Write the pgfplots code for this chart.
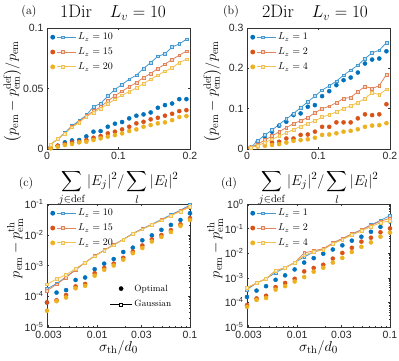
\documentclass[border=0pt]{standalone}
\usepackage{pgfplots}
\pgfplotsset{compat=1.18}
\usepackage{pgfplotstable}
\usepackage{amsmath}
\usepackage{fontspec}
\setsansfont{Liberation Sans}
\definecolor{mb}{rgb}{0,0.447,0.741}
\definecolor{mr}{rgb}{0.85,0.325,0.098}
\definecolor{my}{rgb}{0.929,0.694,0.125}
\colorlet{lb}{mb!72!white}
\colorlet{lr}{mr!72!white}
\colorlet{ly}{my!78!white}

\pgfplotstableread{
x bl rl yl bd rd yd
0.005 0.0038 0.0038 0.0038 0.0011 0.0011 0.0005
0.015 0.0082 0.0082 0.0082 0.0027 0.0027 0.0019
0.025 0.0135 0.0129 0.0129 0.0055 0.0041 0.0033
0.035 0.0192 0.0184 0.0179 0.0071 0.0055 0.0041
0.045 0.0234 0.0225 0.0220 0.0074 0.0060 0.0055
0.055 0.0280 0.0275 0.0266 0.0104 0.0074 0.0060
0.065 0.0349 0.0313 0.0302 0.0143 0.0093 0.0074
0.075 0.0376 0.0349 0.0335 0.0148 0.0107 0.0088
0.085 0.0437 0.0396 0.0371 0.0184 0.0129 0.0102
0.095 0.0492 0.0440 0.0412 0.0209 0.0143 0.0115
0.105 0.0533 0.0478 0.0445 0.0223 0.0162 0.0129
0.115 0.0577 0.0514 0.0473 0.0253 0.0184 0.0148
0.125 0.0610 0.0549 0.0505 0.0275 0.0212 0.0162
0.135 0.0665 0.0590 0.0541 0.0286 0.0225 0.0184
0.145 0.0714 0.0624 0.0577 0.0302 0.0245 0.0198
0.155 0.0766 0.0665 0.0610 0.0341 0.0258 0.0212
0.165 0.0786 0.0701 0.0643 0.0363 0.0275 0.0220
0.175 0.0843 0.0740 0.0670 0.0376 0.0291 0.0239
0.185 0.0868 0.0775 0.0714 0.0412 0.0313 0.0264
0.195 0.0907 0.0808 0.0742 0.0412 0.0321 0.0272
}\tabA

\pgfplotstableread{
x bl rl yl bd rd yd
0.005 0.0033 0.003 0.003 0.0033 0.003 0.003
0.015 0.0206 0.012 0.009 0.0181 0.008 0.006
0.025 0.0346 0.022 0.016 0.0305 0.012 0.008
0.035 0.0470 0.032 0.024 0.0429 0.016 0.010
0.045 0.0610 0.043 0.032 0.0577 0.018 0.012
0.055 0.0742 0.053 0.040 0.0676 0.026 0.016
0.065 0.0882 0.063 0.048 0.0841 0.026 0.020
0.075 0.1022 0.070 0.056 0.0882 0.035 0.022
0.085 0.1171 0.078 0.063 0.1047 0.036 0.024
0.095 0.1311 0.090 0.070 0.1088 0.043 0.028
0.105 0.1459 0.100 0.079 0.1311 0.055 0.035
0.115 0.1566 0.106 0.085 0.1434 0.055 0.036
0.125 0.1682 0.115 0.092 0.1583 0.066 0.039
0.135 0.1830 0.125 0.100 0.1707 0.066 0.043
0.145 0.1954 0.128 0.107 0.1772 0.066 0.045
0.155 0.2078 0.142 0.115 0.1896 0.076 0.049
0.165 0.2243 0.155 0.125 0.2119 0.086 0.055
0.175 0.2383 0.150 0.140 0.2218 0.084 0.058
0.185 0.2449 0.157 0.135 0.2243 0.086 0.059
0.195 0.2638 0.185 0.148 0.2424 0.111 0.064
}\tabB

\pgfplotstableread{
x bl rl yl bd rd yd
0.002884 1.738e-4 1.514e-4 2.455e-4 6.310e-5 6.310e-5 3.388e-5
0.003654 2.570e-4 2.455e-4 3.631e-4 1.318e-4 7.413e-5 6.918e-5
0.004627 4.266e-4 4.074e-4 5.012e-4 1.585e-4 1.096e-4 9.120e-5
0.005861 7.244e-4 7.244e-4 7.943e-4 3.388e-4 2.089e-4 1.820e-4
0.007424 1.259e-3 1.259e-3 1.259e-3 4.074e-4 2.512e-4 2.188e-4
0.009404 2.042e-3 2.042e-3 1.995e-3 7.586e-4 5.623e-4 4.677e-4
0.011912 3.162e-3 3.162e-3 3.090e-3 1.148e-3 8.318e-4 7.244e-4
0.015087 4.677e-3 4.677e-3 4.571e-3 1.622e-3 1.148e-3 1.000e-3
0.019109 7.079e-3 7.079e-3 6.918e-3 2.754e-3 1.778e-3 1.549e-3
0.024210 1.096e-2 1.072e-2 1.047e-2 3.802e-3 2.818e-3 2.512e-3
0.030667 1.585e-2 1.549e-2 1.514e-2 6.607e-3 4.467e-3 3.715e-3
0.038842 2.188e-2 2.138e-2 2.089e-2 9.550e-3 7.079e-3 6.026e-3
0.049204 3.162e-2 3.020e-2 2.951e-2 1.445e-2 9.772e-3 8.511e-3
0.062330 4.467e-2 4.266e-2 4.169e-2 2.089e-2 1.413e-2 1.230e-2
0.078940 6.310e-2 6.026e-2 5.754e-2 3.020e-2 2.188e-2 1.950e-2
0.1 9.333e-2 8.511e-2 7.943e-2 5.012e-2 3.467e-2 3.020e-2
}\tabC

\pgfplotstableread{
x bl rl yl bd rd yd
0.002884 3.311e-4 3.802e-4 3.981e-4 1.660e-4 7.762e-5 6.607e-5
0.003654 6.166e-4 6.166e-4 6.166e-4 3.020e-4 1.445e-4 1.259e-4
0.004627 9.120e-4 9.120e-4 9.120e-4 4.571e-4 1.862e-4 1.514e-4
0.005861 1.622e-3 1.995e-3 1.905e-3 8.318e-4 4.169e-4 3.311e-4
0.007424 2.570e-3 2.570e-3 2.570e-3 1.259e-3 6.166e-4 4.571e-4
0.009404 4.169e-3 4.169e-3 4.169e-3 2.188e-3 9.120e-4 7.079e-4
0.011912 7.079e-3 1.023e-2 8.318e-3 4.169e-3 1.820e-3 1.072e-3
0.015087 1.122e-2 1.259e-2 1.122e-2 6.310e-3 2.512e-3 1.778e-3
0.019109 1.445e-2 1.514e-2 1.380e-2 9.550e-3 3.388e-3 2.570e-3
0.024210 2.512e-2 2.630e-2 2.399e-2 1.413e-2 6.026e-3 4.169e-3
0.030667 3.802e-2 3.981e-2 3.548e-2 2.089e-2 1.023e-2 6.457e-3
0.038842 6.026e-2 6.026e-2 5.495e-2 3.236e-2 1.660e-2 1.122e-2
0.049204 8.913e-2 8.913e-2 7.943e-2 4.677e-2 2.951e-2 1.820e-2
0.062330 1.413e-1 1.349e-1 1.202e-1 7.413e-2 4.266e-2 2.754e-2
0.078940 2.138e-1 1.995e-1 1.738e-1 1.175e-1 7.079e-2 4.677e-2
0.1 3.388e-1 2.630e-1 2.089e-1 1.950e-1 1.023e-1 6.918e-2
}\tabD

\pgfplotsset{
  base/.style={
    scale only axis, width=143pt, clip=false,
    axis line style={black!80, line width=0.4pt},
    every tick/.style={black!80, line width=0.4pt},
    major tick length=2.2pt, minor tick length=1.3pt,
    tick align=inside,
    ticklabel style={font=\fontsize{10.5}{12}\sffamily, text=black!85},
    label style={font=\fontsize{15}{17}\selectfont},
    legend style={at={(axis description cs:0.015,0.985)}, anchor=north west,
      draw=none, fill=none, font=\fontsize{10}{12}\selectfont, row sep=2.5pt,
      inner sep=1pt},
    legend cell align=left,
  },
  dotser/.style={only marks, mark=*, mark size=2.05pt, color=#1, forget plot},
  lineser/.style 2 args={color=#2, line width=0.8pt, mark=square*, mark size=1.4pt,
    mark options={fill=#2!35!white, line width=0.5pt},
    legend image code/.code={
      \fill[#1] (0pt,0pt) circle (2pt);
      \draw[#2, line width=0.8pt] (4pt,0pt) -- (23pt,0pt);
      \draw[#2, line width=0.5pt, fill=#2!35!white] (9pt,-1.4pt) rectangle (11.8pt,1.4pt);
    }},
  linax/.style={base, height=121pt, xmin=0, xmax=0.2, ymin=0,
    xtick={0,0.1,0.2}, xticklabels={0,0.1,0.2},
    xlabel={$\displaystyle\sum_{j\in\mathrm{def}}|E_j|^2/\sum_{l}|E_l|^2$},
    xlabel style={at={(axis description cs:0.5,-0.145)}, anchor=north},
    ylabel={$\big(p_{\mathrm{em}}-p_{\mathrm{em}}^{\mathrm{def}}\big)/p_{\mathrm{em}}$},
    ylabel style={at={(axis description cs:-0.243,0.475)}, anchor=center, inner sep=0pt},
  },
  logax/.style={base, height=123pt, xmin=0.002884, xmax=0.1,
    xtick={0.003,0.01,0.03,0.1}, xticklabels={0.003,0.01,0.03,0.1},
    xticklabel style={yshift=-1pt},
    minor xtick={0.004,0.005,0.006,0.007,0.008,0.009,0.02,0.04,0.05,0.06,0.07,0.08,0.09},
    xlabel={$\sigma_{\mathrm{th}}/d_0$},
    xlabel style={at={(axis description cs:0.5,-0.168)}, anchor=center},
    ylabel={$p_{\mathrm{em}}-p_{\mathrm{em}}^{\mathrm{th}}$},
    ylabel style={at={(axis description cs:-0.222,0.64)}, anchor=center, inner sep=0pt},
  },
}

\begin{document}
\begin{tikzpicture}
\useasboundingbox (0,0) rectangle (399pt,360pt);

% (a)
\begin{axis}[linax, at={(47pt,211pt)}, anchor=south west, ymax=0.1,
  ytick={0,0.05,0.1}, yticklabels={0,0.05,0.1}]
\addplot[dotser=mb] table[x=x,y=bd]{\tabA};
\addplot[dotser=mr] table[x=x,y=rd]{\tabA};
\addplot[dotser=my] table[x=x,y=yd]{\tabA};
\addplot[lineser={mb}{lb}] table[x=x,y=bl]{\tabA};
\addlegendentry{$L_z=10$}
\addplot[lineser={mr}{lr}] table[x=x,y=rl]{\tabA};
\addlegendentry{$L_z=15$}
\addplot[lineser={my}{ly}] table[x=x,y=yl]{\tabA};
\addlegendentry{$L_z=20$}
\end{axis}

% (b)
\begin{axis}[linax, at={(247pt,211pt)}, anchor=south west, ymax=0.3,
  ytick={0,0.1,0.2,0.3}, yticklabels={0,0.1,0.2,0.3}]
\addplot[dotser=mb] table[x=x,y=bd]{\tabB};
\addplot[dotser=mr] table[x=x,y=rd]{\tabB};
\addplot[dotser=my] table[x=x,y=yd]{\tabB};
\addplot[lineser={mb}{lb}] table[x=x,y=bl]{\tabB};
\addlegendentry{$L_z=1$}
\addplot[lineser={mr}{lr}] table[x=x,y=rl]{\tabB};
\addlegendentry{$L_z=2$}
\addplot[lineser={my}{ly}] table[x=x,y=yl]{\tabB};
\addlegendentry{$L_z=4$}
\end{axis}

% (c)
\begin{loglogaxis}[logax, at={(47pt,33pt)}, anchor=south west, ymin=1e-5, ymax=1e-1,
  ytick={1e-5,1e-4,1e-3,1e-2,1e-1},
  yticklabels={10\textsuperscript{-5},10\textsuperscript{-4},10\textsuperscript{-3},10\textsuperscript{-2},10\textsuperscript{-1}},
  minor ytick={2e-5,3e-5,4e-5,5e-5,6e-5,7e-5,8e-5,9e-5,2e-4,3e-4,4e-4,5e-4,6e-4,7e-4,8e-4,9e-4,2e-3,3e-3,4e-3,5e-3,6e-3,7e-3,8e-3,9e-3,2e-2,3e-2,4e-2,5e-2,6e-2,7e-2,8e-2,9e-2}]
\addplot[dotser=mb] table[x=x,y=bd]{\tabC};
\addplot[dotser=mr] table[x=x,y=rd]{\tabC};
\addplot[dotser=my] table[x=x,y=yd]{\tabC};
\addplot[lineser={mb}{lb}] table[x=x,y=bl]{\tabC};
\addlegendentry{$L_z=10$}
\addplot[lineser={mr}{lr}] table[x=x,y=rl]{\tabC};
\addlegendentry{$L_z=15$}
\addplot[lineser={my}{ly}] table[x=x,y=yl]{\tabC};
\addlegendentry{$L_z=20$}
\end{loglogaxis}
\begin{axis}[at={(47pt,33pt)}, anchor=south west, scale only axis, width=143pt, height=123pt,
  hide axis, xmin=0, xmax=1, ymin=0, ymax=1,
  legend style={at={(axis description cs:0.43,0.37)}, anchor=north west, draw=none, fill=none,
    font=\fontsize{9}{11}\selectfont, row sep=4pt, inner sep=1pt},
  legend cell align=left]
\addplot[draw=none, forget plot] coordinates {(0.5,0.5)};
\addlegendimage{legend image code/.code={\fill[black] (11pt,0pt) circle (2.1pt);}}
\addlegendentry{Optimal}
\addlegendimage{legend image code/.code={\draw[black, line width=0.8pt] (0pt,0pt) -- (22pt,0pt);
  \draw[black, line width=0.5pt, fill=white] (9.5pt,-1.6pt) rectangle (12.5pt,1.6pt);}}
\addlegendentry{Gaussian}
\end{axis}

% (d)
\begin{loglogaxis}[logax, at={(247pt,33pt)}, anchor=south west, ymin=1e-5, ymax=1,
  ytick={1e-5,1e-4,1e-3,1e-2,1e-1,1},
  yticklabels={10\textsuperscript{-5},10\textsuperscript{-4},10\textsuperscript{-3},10\textsuperscript{-2},10\textsuperscript{-1},10\textsuperscript{0}},
  minor ytick={2e-5,3e-5,4e-5,5e-5,6e-5,7e-5,8e-5,9e-5,2e-4,3e-4,4e-4,5e-4,6e-4,7e-4,8e-4,9e-4,2e-3,3e-3,4e-3,5e-3,6e-3,7e-3,8e-3,9e-3,2e-2,3e-2,4e-2,5e-2,6e-2,7e-2,8e-2,9e-2,0.2,0.3,0.4,0.5,0.6,0.7,0.8,0.9}]
\addplot[dotser=mb] table[x=x,y=bd]{\tabD};
\addplot[dotser=mr] table[x=x,y=rd]{\tabD};
\addplot[dotser=my] table[x=x,y=yd]{\tabD};
\addplot[lineser={mb}{lb}] table[x=x,y=bl]{\tabD};
\addlegendentry{$L_z=1$}
\addplot[lineser={mr}{lr}] table[x=x,y=rl]{\tabD};
\addlegendentry{$L_z=2$}
\addplot[lineser={my}{ly}] table[x=x,y=yl]{\tabD};
\addlegendentry{$L_z=4$}
\end{loglogaxis}

% titles and panel letters
\node[font=\fontsize{12}{14}\selectfont] at (29pt,348pt) {(a)};
\node[font=\fontsize{18}{20}\selectfont] at (113pt,347pt) {1Dir\quad$L_v=10$};
\node[font=\fontsize{12}{14}\selectfont] at (231pt,348pt) {(b)};
\node[font=\fontsize{18}{20}\selectfont] at (315pt,347pt) {2Dir\quad$L_v=10$};
\node[font=\fontsize{12}{14}\selectfont] at (26pt,176pt) {(c)};
\node[font=\fontsize{12}{14}\selectfont] at (229pt,176pt) {(d)};
\end{tikzpicture}
\end{document}
